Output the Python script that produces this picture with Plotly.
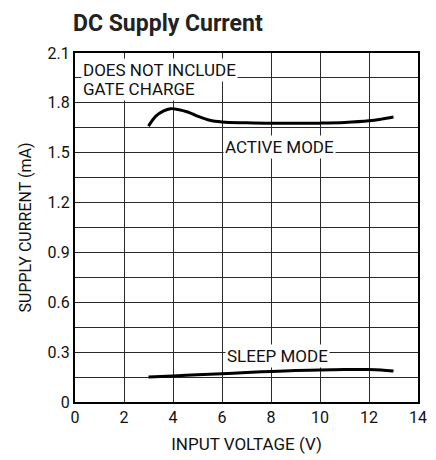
import plotly.graph_objects as go

active_v = [3.0, 3.3, 3.6, 3.9, 4.2, 4.6, 5.0, 5.5, 6.0, 7.0, 8.0, 9.0, 10.0, 11.0, 12.0, 12.5, 13.0]
active_i = [1.66, 1.72, 1.75, 1.765, 1.76, 1.745, 1.72, 1.695, 1.685, 1.68, 1.677, 1.677, 1.678, 1.682, 1.692, 1.702, 1.715]
sleep_v = [3.0, 4.0, 5.0, 6.0, 7.0, 8.0, 9.0, 10.0, 11.0, 12.0, 12.5, 13.0]
sleep_i = [0.15, 0.157, 0.164, 0.17, 0.177, 0.184, 0.189, 0.193, 0.195, 0.195, 0.192, 0.186]

y_tick_labels = ["0", "0.3", "0.6", "0.9", "1.2", "1.5", "1.8", "2.1"]
y_ticks = [0, 0.3, 0.6, 0.9, 1.2, 1.5, 1.8, 2.1]

FONT = "Roboto, Liberation Sans, Arial, sans-serif"
GRID = "#2a2a2a"

fig = go.Figure()
fig.add_trace(go.Scatter(x=active_v, y=active_i, mode="lines", line=dict(color="black", width=3, shape="spline"), showlegend=False))
fig.add_trace(go.Scatter(x=sleep_v, y=sleep_i, mode="lines", line=dict(color="black", width=3, shape="spline"), showlegend=False))

fig.update_xaxes(range=[0, 14], tickmode="linear", tick0=0, dtick=2, ticks="", showgrid=True, gridcolor=GRID, gridwidth=1.2,
                 showline=True, linecolor="black", linewidth=2, mirror=True, zeroline=False,
                 title=dict(text="INPUT VOLTAGE (V)", font=dict(size=17, color="#111", family=FONT), standoff=12),
                 tickfont=dict(size=16, color="#111", family=FONT))
fig.update_yaxes(range=[0, 2.1], tickvals=y_ticks, ticktext=y_tick_labels, ticks="", showgrid=True, gridcolor=GRID, gridwidth=1.2,
                 showline=True, linecolor="black", linewidth=2, mirror=True, zeroline=False,
                 minor=dict(dtick=0.15, tick0=0, showgrid=True, gridcolor=GRID, gridwidth=1.2),
                 title=dict(text="SUPPLY CURRENT (mA)", font=dict(size=16, color="#111", family=FONT), standoff=12),
                 tickfont=dict(size=16, color="#111", family=FONT))

fig.add_annotation(x=0.26, y=2.0, xref="x", yref="y", xanchor="left", yanchor="middle", align="left",
                   text="DOES NOT INCLUDE", showarrow=False, bgcolor="white",
                   font=dict(size=17, color="#111", family=FONT), borderpad=1)
fig.add_annotation(x=0.26, y=1.886, xref="x", yref="y", xanchor="left", yanchor="middle", align="left",
                   text="GATE CHARGE", showarrow=False, bgcolor="white",
                   font=dict(size=17, color="#111", family=FONT), borderpad=1)
fig.add_annotation(x=8.35, y=1.533, xref="x", yref="y", text="ACTIVE MODE", showarrow=False, bgcolor="white",
                   font=dict(size=17, color="#111", family=FONT), borderpad=1)
fig.add_annotation(x=8.27, y=0.275, xref="x", yref="y", text="SLEEP MODE", showarrow=False, bgcolor="white",
                   font=dict(size=17, color="#111", family=FONT), borderpad=1)

fig.update_layout(
    width=428, height=452,
    margin=dict(l=67, r=9, t=45, b=56),
    paper_bgcolor="white", plot_bgcolor="white",
    title=dict(text="<b>DC Supply Current</b>", x=65/428, xanchor="left", y=1 - 15/452, yanchor="middle",
               font=dict(size=23, color="#222", family=FONT)),
)
fig.write_html("out.html")
